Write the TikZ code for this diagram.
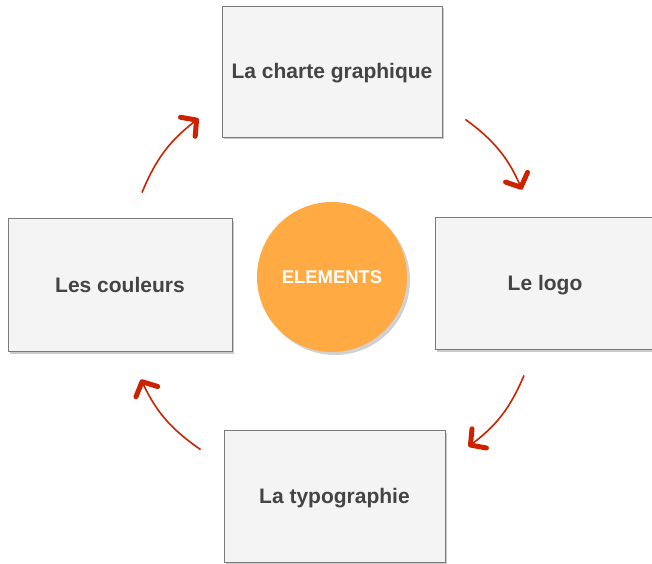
\documentclass[tikz,border=0pt]{standalone}
\usepackage{fontspec}
\setmainfont{Liberation Sans}
\usepackage{xcolor}
\usepackage{tikz}
\usetikzlibrary{arrows.meta,shadows}
\definecolor{boxfill}{HTML}{F4F4F4}
\definecolor{boxline}{HTML}{7A7A7A}
\definecolor{boxtext}{HTML}{444444}
\definecolor{elemorange}{HTML}{FFAA42}
\definecolor{arrowred}{HTML}{CC2200}

\begin{document}
\begin{tikzpicture}[
        x=1pt, y=1pt,
        box/.style = {rectangle, draw=boxline, fill=boxfill, line width=0.9pt,
            minimum width=220pt, minimum height=131pt, inner sep=0pt,
            text height=15pt, text depth=0pt,
            text=boxtext, font=\fontsize{21}{24}\selectfont\bfseries,
            drop shadow={shadow xshift=1.5pt, shadow yshift=-2.5pt, opacity=0.35, fill=black!60}},
        hub/.style = {circle, fill=elemorange, minimum size=150pt, inner sep=0pt,
            text=white, font=\fontsize{18.4}{22}\selectfont\bfseries,
            drop shadow={shadow xshift=3pt, shadow yshift=-3pt, opacity=0.3, fill=black!60}},
        cycle/.style = {draw=arrowred, line width=1.6pt, bend left=15,
            -{Straight Barb[length=11pt, width=24pt, line width=5pt, round]}}
    ]
        \useasboundingbox (0,0) rectangle (652,563);
        \node[box] (charte) at (332,491.5) {La charte graphique};
        \node[box, minimum width=224pt, minimum height=133pt] (couleurs) at (120,278.5) {Les couleurs};
        \node[box, minimum height=132pt] (logo) at (545,280) {Le logo};
        \node[box, minimum width=221pt, minimum height=132pt] (typo) at (334.5,67) {La typographie};
        \node[hub] (elements) at (332,286) {ELEMENTS};
        \coordinate (a1s) at ([shift={(22,25)}]couleurs.north);
        \coordinate (a1e) at ([shift={(-23,-113)}]charte.north west);
        \coordinate (a2s) at ([shift={(23,18)}]charte.south east);
        \coordinate (a2e) at ([shift={(-23,27)}]logo.north);
        \coordinate (a3s) at ([shift={(-21,-26)}]logo.south);
        \coordinate (a3e) at ([shift={(23,-17)}]typo.north east);
        \coordinate (a4s) at ([shift={(-23,-20)}]typo.north west);
        \coordinate (a4e) at ([shift={(21,-28)}]couleurs.south);
        \draw[cycle] (a1s) to (a1e);
        \draw[cycle] (a2s) to (a2e);
        \draw[cycle] (a3s) to (a3e);
        \draw[cycle] (a4s) to (a4e);
    \end{tikzpicture}
\end{document}
